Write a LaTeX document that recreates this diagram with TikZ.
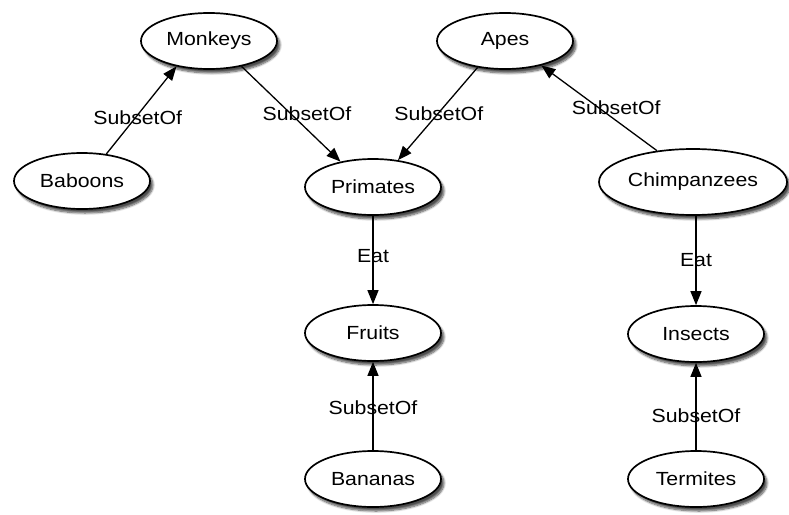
\documentclass[tikz,border=0pt]{standalone}
\usepackage{fontspec}
\setmainfont{Liberation Sans}[FakeStretch=1.12]
\usetikzlibrary{shapes.geometric,arrows.meta,shadows.blur}
\begin{document}
\begin{tikzpicture}[x=1pt,y=-1pt,
  concept/.style={ellipse,draw=black,line width=1.7pt,fill=white,
    minimum width=136pt,minimum height=56pt,inner sep=0pt,
    font=\fontsize{19}{22}\selectfont,
    blur shadow={shadow xshift=3pt,shadow yshift=-4pt,shadow blur steps=8,shadow opacity=70}},
  rel/.style={line width=1.3pt,-{Triangle[length=14pt,width=11pt]}},
  lbl/.style={font=\fontsize{19}{22}\selectfont,inner sep=0pt}]
\useasboundingbox (0,0) rectangle (789,514);

\node[concept] (monkeys) at (209,41) {Monkeys};
\node[concept] (apes) at (505,41) {Apes};
\node[concept] (baboons) at (82,181) {Baboons};
\node[concept] (primates) at (373,187) {Primates};
\node[concept,minimum width=188pt,minimum height=66pt] (chimps) at (693,182) {Chimpanzees};
\node[concept] (fruits) at (373,333) {Fruits};
\node[concept] (insects) at (696,334) {Insects};
\node[concept] (bananas) at (373,479) {Bananas};
\node[concept] (termites) at (696,479) {Termites};

\draw[rel] (baboons.48) -- node[lbl,pos=0.42,xshift=2pt] {SubsetOf} (monkeys.218);
\draw[rel] (monkeys.-38) -- node[lbl,pos=0.5,xshift=16pt] {SubsetOf} (primates.142);
\draw[rel] (apes.224) -- node[lbl,pos=0.5,xshift=1pt] {SubsetOf} (primates.47);
\draw[rel] (chimps.139) -- node[lbl,pos=0.5,xshift=17pt] {SubsetOf} (apes.-34);
\draw[rel] (primates.south) -- node[lbl,pos=0.46] {Eat} (fruits.north);
\draw[rel] (chimps.south) ++(3pt,0) coordinate (cs) (cs) -- node[lbl,pos=0.5] {Eat} (insects.north);
\draw[rel] (bananas.north) -- node[lbl,pos=0.48] {SubsetOf} (fruits.south);
\draw[rel] (termites.north) -- node[lbl,pos=0.4] {SubsetOf} (insects.south);
\end{tikzpicture}
\end{document}
